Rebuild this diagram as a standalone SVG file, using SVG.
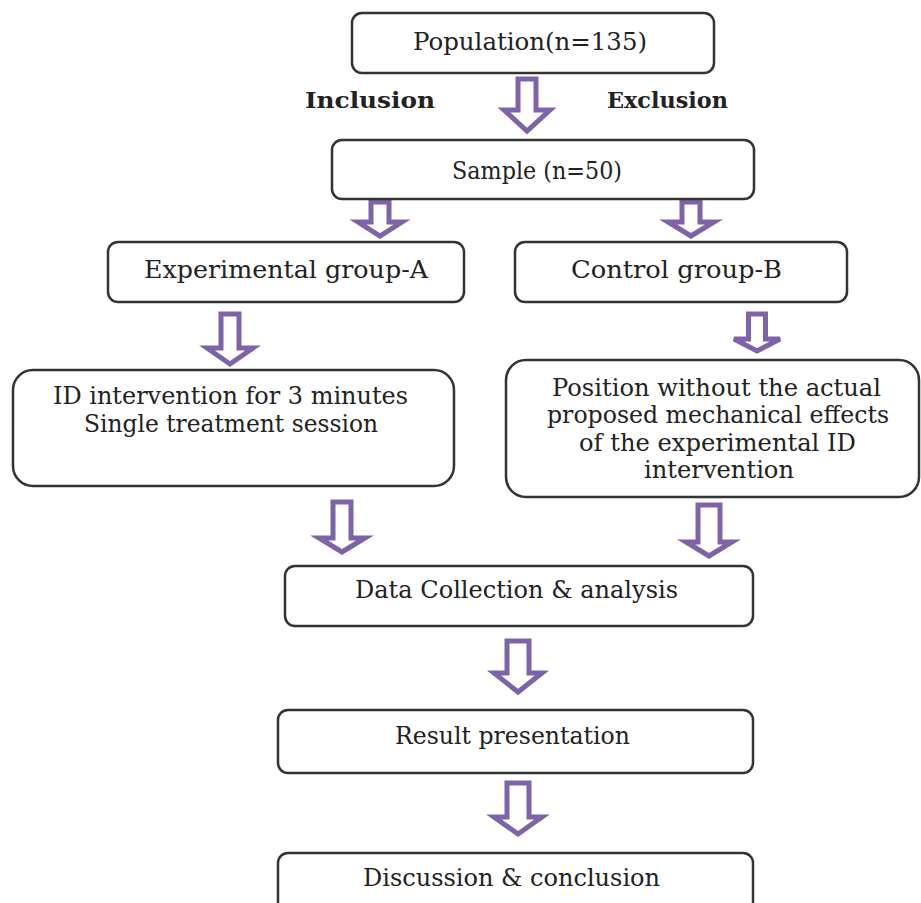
<svg xmlns="http://www.w3.org/2000/svg" width="921" height="903" viewBox="0 0 921 903">
<style>
.box{fill:#fff;stroke:#333;stroke-width:2.5}
.t{font-family:"DejaVu Serif","Liberation Serif",serif;font-size:24px;fill:#222;text-anchor:middle}
.b{font-family:"DejaVu Serif","Liberation Serif",serif;font-size:23px;font-weight:bold;fill:#222;text-anchor:middle}
.arr{fill:#fff;stroke:#7f63a8;stroke-width:5;stroke-linejoin:miter}
</style>
<rect width="921" height="903" fill="#fff"/>
<g id="connectors">
<path class="arr" d="M518,79 L536,79 L536,110 L550,110 L527,131 L504,110 L518,110 Z"/>
<path class="arr" d="M371,202 L389,202 L389,222 L402,222 L380,236 L358,222 L371,222 Z"/>
<path class="arr" d="M682,202 L700,202 L700,222 L714,222 L691,236 L668,222 L682,222 Z"/>
<path class="arr" d="M221,314 L239,314 L239,348 L253,348 L230,364 L207,348 L221,348 Z"/>
<path class="arr" d="M748.5,314 L765.5,314 L765.5,339 L780,339 L757,351 L734,339 L748.5,339 Z"/>
<path class="arr" d="M333,502 L351,502 L351,538 L365,538 L342,552 L319,538 L333,538 Z"/>
<path class="arr" d="M698,505 L720,505 L720,542 L732,542 L709,556 L686,542 L698,542 Z"/>
<path class="arr" d="M507,641 L529,641 L529,673 L542,673 L518,692 L494,673 L507,673 Z"/>
<path class="arr" d="M507,783 L529,783 L529,817 L542,817 L518,834 L494,817 L507,817 Z"/>
</g>
<g id="labels">
<text class="b" x="370" y="108" textLength="130" lengthAdjust="spacingAndGlyphs">Inclusion</text>
<text class="b" x="667.5" y="108" textLength="121" lengthAdjust="spacingAndGlyphs">Exclusion</text>
</g>
<g id="population">
<rect class="box" x="352" y="13" width="362" height="60" rx="10"/>
<text class="t" x="530" y="50" textLength="234" lengthAdjust="spacingAndGlyphs">Population(n=135)</text>
</g>
<g id="sample">
<rect class="box" x="332" y="140" width="422" height="59" rx="10"/>
<text class="t" x="537" y="179" textLength="170" lengthAdjust="spacingAndGlyphs">Sample (n=50)</text>
</g>
<g id="groupA">
<rect class="box" x="108" y="242" width="356" height="60" rx="10"/>
<text class="t" x="286" y="278" textLength="284" lengthAdjust="spacingAndGlyphs">Experimental group-A</text>
</g>
<g id="groupB">
<rect class="box" x="515" y="242" width="332" height="60" rx="10"/>
<text class="t" x="676.5" y="278" textLength="211" lengthAdjust="spacingAndGlyphs">Control group-B</text>
</g>
<g id="intervention">
<rect class="box" x="13" y="370" width="441" height="116" rx="20"/>
<text class="t" x="230.5" y="404" textLength="355" lengthAdjust="spacingAndGlyphs">ID intervention for 3 minutes</text>
<text class="t" x="231" y="432" textLength="294" lengthAdjust="spacingAndGlyphs">Single treatment session</text>
</g>
<g id="position">
<rect class="box" x="506" y="360" width="413" height="137" rx="20"/>
<text class="t" x="716.5" y="396" textLength="329" lengthAdjust="spacingAndGlyphs">Position without the actual</text>
<text class="t" x="718" y="423" textLength="342" lengthAdjust="spacingAndGlyphs">proposed mechanical effects</text>
<text class="t" x="717.5" y="451" textLength="277" lengthAdjust="spacingAndGlyphs">of the experimental ID</text>
<text class="t" x="719" y="478" textLength="150" lengthAdjust="spacingAndGlyphs">intervention</text>
</g>
<g id="data">
<rect class="box" x="285" y="566" width="468" height="60" rx="10"/>
<text class="t" x="516.5" y="598" textLength="323" lengthAdjust="spacingAndGlyphs">Data Collection &amp; analysis</text>
</g>
<g id="result">
<rect class="box" x="278" y="710" width="475" height="63" rx="10"/>
<text class="t" x="512.5" y="744" textLength="235" lengthAdjust="spacingAndGlyphs">Result presentation</text>
</g>
<g id="discussion">
<rect class="box" x="278" y="853" width="475" height="70" rx="10"/>
<text class="t" x="511.5" y="886" textLength="297" lengthAdjust="spacingAndGlyphs">Discussion &amp; conclusion</text>
</g>
</svg>
